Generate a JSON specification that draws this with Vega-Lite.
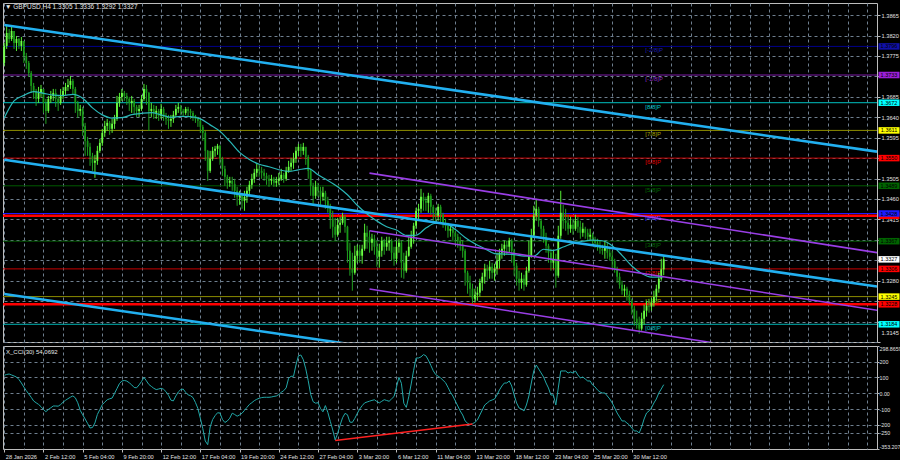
{
"$schema":"https://vega.github.io/schema/vega-lite/v6.json",
"background":"#000000",
"padding":{"left":1,"top":2,"right":0,"bottom":0},
"spacing":2,
"config":{
 "font":"Liberation Sans",
 "view":{"stroke":"#bdbdbd","strokeWidth":1},
 "axis":{"labelFont":"Liberation Sans","labelFontSize":5.7,"labelColor":"#e0e0e0","tickColor":"#bdbdbd","tickSize":3,"domain":false,"gridColor":"#6f7f8f","gridDash":[3,3],"gridWidth":1,"labelOverlap":false,"labelPadding":1}
},
"datasets":{
"bars":[
{"i":0,"o":1.37596,"h":1.38036,"l":1.3753,"c":1.3797,"v":113.4},
{"i":1,"o":1.3797,"h":1.3841,"l":1.37904,"c":1.38256,"v":118.5},
{"i":2,"o":1.38256,"h":1.38344,"l":1.38036,"c":1.38124,"v":121.7},
{"i":3,"o":1.38124,"h":1.38388,"l":1.3808,"c":1.383,"v":115.3},
{"i":4,"o":1.383,"h":1.383,"l":1.37904,"c":1.38036,"v":109},
{"i":5,"o":1.38036,"h":1.3819,"l":1.3786,"c":1.38124,"v":102.7},
{"i":6,"o":1.38124,"h":1.38146,"l":1.37904,"c":1.3797,"v":86.9},
{"i":7,"o":1.3797,"h":1.38168,"l":1.3786,"c":1.3808,"v":64.7},
{"i":8,"o":1.3808,"h":1.3808,"l":1.37596,"c":1.3775,"v":39.4},
{"i":9,"o":1.3775,"h":1.37816,"l":1.37464,"c":1.37596,"v":16},
{"i":10,"o":1.37596,"h":1.3764,"l":1.37288,"c":1.37376,"v":-4.9},
{"i":11,"o":1.37376,"h":1.3742,"l":1.36936,"c":1.3709,"v":-25.8},
{"i":12,"o":1.3709,"h":1.37156,"l":1.36804,"c":1.3698,"v":-49.2},
{"i":13,"o":1.3698,"h":1.37024,"l":1.3665,"c":1.36804,"v":-60.6},
{"i":14,"o":1.36804,"h":1.37068,"l":1.36716,"c":1.36936,"v":-70.8},
{"i":15,"o":1.36936,"h":1.37112,"l":1.36848,"c":1.37024,"v":-85.3},
{"i":16,"o":1.37024,"h":1.37024,"l":1.36496,"c":1.36716,"v":-103},
{"i":17,"o":1.36716,"h":1.36804,"l":1.36254,"c":1.3654,"v":-117},
{"i":18,"o":1.3654,"h":1.3687,"l":1.36496,"c":1.36804,"v":-103},
{"i":19,"o":1.36804,"h":1.3698,"l":1.36716,"c":1.3687,"v":-92.3},
{"i":20,"o":1.3687,"h":1.37024,"l":1.3676,"c":1.36936,"v":-80.9},
{"i":21,"o":1.36936,"h":1.37024,"l":1.36628,"c":1.36804,"v":-80.9},
{"i":22,"o":1.36804,"h":1.3687,"l":1.3654,"c":1.36716,"v":-82.2},
{"i":23,"o":1.36716,"h":1.37024,"l":1.36672,"c":1.36892,"v":-72},
{"i":24,"o":1.36892,"h":1.37068,"l":1.36804,"c":1.3698,"v":-56.8},
{"i":25,"o":1.3698,"h":1.37156,"l":1.36892,"c":1.37068,"v":-44.8},
{"i":26,"o":1.37068,"h":1.37244,"l":1.3698,"c":1.37112,"v":-34.7},
{"i":27,"o":1.37112,"h":1.3731,"l":1.37024,"c":1.372,"v":-25.2},
{"i":28,"o":1.372,"h":1.37244,"l":1.36892,"c":1.37024,"v":-17},
{"i":29,"o":1.37024,"h":1.37068,"l":1.36496,"c":1.36716,"v":-29},
{"i":30,"o":1.36716,"h":1.3676,"l":1.36386,"c":1.3654,"v":-60.6},
{"i":31,"o":1.3654,"h":1.36672,"l":1.3643,"c":1.36584,"v":-108.1},
{"i":32,"o":1.36584,"h":1.36628,"l":1.3599,"c":1.3621,"v":-136.6},
{"i":33,"o":1.3621,"h":1.36276,"l":1.3555,"c":1.3588,"v":-163.2},
{"i":34,"o":1.3588,"h":1.35968,"l":1.3555,"c":1.35748,"v":-191},
{"i":35,"o":1.35748,"h":1.35836,"l":1.3533,"c":1.3555,"v":-220.2},
{"i":36,"o":1.3555,"h":1.35616,"l":1.3522,"c":1.35396,"v":-217},
{"i":37,"o":1.35396,"h":1.35572,"l":1.35066,"c":1.3544,"v":-188.5},
{"i":38,"o":1.3544,"h":1.3577,"l":1.35352,"c":1.3566,"v":-134.7},
{"i":39,"o":1.3566,"h":1.35924,"l":1.35616,"c":1.35836,"v":-103.7},
{"i":40,"o":1.35836,"h":1.36144,"l":1.3577,"c":1.36056,"v":-72.7},
{"i":41,"o":1.36056,"h":1.3632,"l":1.35968,"c":1.3621,"v":-56.8},
{"i":42,"o":1.3621,"h":1.36364,"l":1.361,"c":1.36276,"v":-41.6},
{"i":43,"o":1.36276,"h":1.3632,"l":1.36012,"c":1.36144,"v":-35.3},
{"i":44,"o":1.36144,"h":1.36364,"l":1.36056,"c":1.36254,"v":-30.9},
{"i":45,"o":1.36254,"h":1.36452,"l":1.36144,"c":1.36364,"v":-1.1},
{"i":46,"o":1.36364,"h":1.3687,"l":1.3632,"c":1.36716,"v":29.9},
{"i":47,"o":1.36716,"h":1.36936,"l":1.36628,"c":1.36848,"v":60.9},
{"i":48,"o":1.36848,"h":1.37024,"l":1.3676,"c":1.36936,"v":77.4},
{"i":49,"o":1.36936,"h":1.3698,"l":1.3676,"c":1.3687,"v":80.5},
{"i":50,"o":1.3687,"h":1.36936,"l":1.36672,"c":1.36804,"v":76.7},
{"i":51,"o":1.36804,"h":1.36848,"l":1.3654,"c":1.36716,"v":66},
{"i":52,"o":1.36716,"h":1.3687,"l":1.36496,"c":1.3676,"v":52.7},
{"i":53,"o":1.3676,"h":1.36804,"l":1.36474,"c":1.36628,"v":36.2},
{"i":54,"o":1.36628,"h":1.36672,"l":1.36408,"c":1.3654,"v":34.3},
{"i":55,"o":1.3654,"h":1.36672,"l":1.36408,"c":1.36584,"v":52.7},
{"i":56,"o":1.36584,"h":1.36892,"l":1.3654,"c":1.36804,"v":74.2},
{"i":57,"o":1.36804,"h":1.37134,"l":1.3676,"c":1.37024,"v":100.1},
{"i":58,"o":1.37024,"h":1.37112,"l":1.36672,"c":1.36936,"v":78},
{"i":59,"o":1.36936,"h":1.36958,"l":1.361,"c":1.3654,"v":55.2},
{"i":60,"o":1.3654,"h":1.36716,"l":1.36408,"c":1.36584,"v":43.2},
{"i":61,"o":1.36584,"h":1.36672,"l":1.36364,"c":1.36496,"v":31.2},
{"i":62,"o":1.36496,"h":1.3665,"l":1.36364,"c":1.3654,"v":22.9},
{"i":63,"o":1.3654,"h":1.36584,"l":1.3632,"c":1.3643,"v":26.7},
{"i":64,"o":1.3643,"h":1.36694,"l":1.36364,"c":1.36584,"v":31.2},
{"i":65,"o":1.36584,"h":1.36628,"l":1.3632,"c":1.36408,"v":24.8},
{"i":66,"o":1.36408,"h":1.36496,"l":1.36232,"c":1.36364,"v":9.6},
{"i":67,"o":1.36364,"h":1.36452,"l":1.36144,"c":1.3632,"v":-13.2},
{"i":68,"o":1.3632,"h":1.36452,"l":1.36188,"c":1.36364,"v":-44.2},
{"i":69,"o":1.36364,"h":1.3654,"l":1.36276,"c":1.36452,"v":-48.6},
{"i":70,"o":1.36452,"h":1.36672,"l":1.36408,"c":1.36584,"v":-17.6},
{"i":71,"o":1.36584,"h":1.36716,"l":1.36496,"c":1.36628,"v":7.7},
{"i":72,"o":1.36628,"h":1.36672,"l":1.36452,"c":1.3654,"v":22.9},
{"i":73,"o":1.3654,"h":1.36584,"l":1.36408,"c":1.36496,"v":26.1},
{"i":74,"o":1.36496,"h":1.36628,"l":1.36452,"c":1.36584,"v":5.2},
{"i":75,"o":1.36584,"h":1.36628,"l":1.36408,"c":1.3654,"v":-10.6},
{"i":76,"o":1.3654,"h":1.36584,"l":1.36364,"c":1.36496,"v":-15.7},
{"i":77,"o":1.36496,"h":1.3654,"l":1.3632,"c":1.3643,"v":-27.7},
{"i":78,"o":1.3643,"h":1.36452,"l":1.36276,"c":1.36364,"v":-58.7},
{"i":79,"o":1.36364,"h":1.36408,"l":1.36188,"c":1.3632,"v":-96.7},
{"i":80,"o":1.3632,"h":1.36364,"l":1.36056,"c":1.36188,"v":-158.7},
{"i":81,"o":1.36188,"h":1.36232,"l":1.3588,"c":1.36056,"v":-223.9},
{"i":82,"o":1.36056,"h":1.361,"l":1.3544,"c":1.3566,"v":-302.4},
{"i":83,"o":1.3566,"h":1.3568,"l":1.35,"c":1.3522,"v":-325.9},
{"i":84,"o":1.3522,"h":1.3566,"l":1.35176,"c":1.35484,"v":-213.8},
{"i":85,"o":1.35484,"h":1.35748,"l":1.3544,"c":1.3566,"v":-167},
{"i":86,"o":1.3566,"h":1.3577,"l":1.35528,"c":1.35704,"v":-142.3},
{"i":87,"o":1.35704,"h":1.35814,"l":1.35572,"c":1.3577,"v":-123.9},
{"i":88,"o":1.3577,"h":1.35792,"l":1.35352,"c":1.35484,"v":-125.2},
{"i":89,"o":1.35484,"h":1.35528,"l":1.3511,"c":1.35264,"v":-165.7},
{"i":90,"o":1.35264,"h":1.3533,"l":1.3489,"c":1.35088,"v":-185.3},
{"i":91,"o":1.35088,"h":1.35132,"l":1.34824,"c":1.34956,"v":-175.8},
{"i":92,"o":1.34956,"h":1.35088,"l":1.34868,"c":1.35,"v":-158.1},
{"i":93,"o":1.35,"h":1.35088,"l":1.3478,"c":1.34934,"v":-126.5},
{"i":94,"o":1.34934,"h":1.35044,"l":1.34626,"c":1.3478,"v":-134.7},
{"i":95,"o":1.3478,"h":1.34868,"l":1.3445,"c":1.34648,"v":-145.5},
{"i":96,"o":1.34648,"h":1.3478,"l":1.34472,"c":1.34692,"v":-137.2},
{"i":97,"o":1.34692,"h":1.34736,"l":1.34384,"c":1.3456,"v":-126.5},
{"i":98,"o":1.3456,"h":1.3478,"l":1.3434,"c":1.34648,"v":-108.7},
{"i":99,"o":1.34648,"h":1.34868,"l":1.34516,"c":1.3478,"v":-89.8},
{"i":100,"o":1.3478,"h":1.35,"l":1.34692,"c":1.34912,"v":-71.4},
{"i":101,"o":1.34912,"h":1.35154,"l":1.34824,"c":1.35044,"v":-60},
{"i":102,"o":1.35044,"h":1.35264,"l":1.34956,"c":1.35176,"v":-47.3},
{"i":103,"o":1.35176,"h":1.35374,"l":1.35088,"c":1.35264,"v":-38.5},
{"i":104,"o":1.35264,"h":1.35352,"l":1.35088,"c":1.3522,"v":-32.1},
{"i":105,"o":1.3522,"h":1.35308,"l":1.35044,"c":1.35176,"v":-27.7},
{"i":106,"o":1.35176,"h":1.35264,"l":1.35,"c":1.3511,"v":-25.8},
{"i":107,"o":1.3511,"h":1.35176,"l":1.34912,"c":1.35044,"v":-25.8},
{"i":108,"o":1.35044,"h":1.35132,"l":1.34868,"c":1.35,"v":-25.8},
{"i":109,"o":1.35,"h":1.35132,"l":1.34912,"c":1.35044,"v":-23.9},
{"i":110,"o":1.35044,"h":1.35088,"l":1.34868,"c":1.34956,"v":-20.1},
{"i":111,"o":1.34956,"h":1.35088,"l":1.34868,"c":1.35,"v":-17.6},
{"i":112,"o":1.35,"h":1.35176,"l":1.34912,"c":1.35044,"v":-8.1},
{"i":113,"o":1.35044,"h":1.35264,"l":1.35,"c":1.35132,"v":5.8},
{"i":114,"o":1.35132,"h":1.35176,"l":1.34956,"c":1.35044,"v":16},
{"i":115,"o":1.35044,"h":1.35308,"l":1.35,"c":1.3522,"v":33.7},
{"i":116,"o":1.3522,"h":1.3544,"l":1.35176,"c":1.35308,"v":94.5},
{"i":117,"o":1.35308,"h":1.35506,"l":1.3522,"c":1.35396,"v":107.1},
{"i":118,"o":1.35396,"h":1.35616,"l":1.35264,"c":1.35484,"v":107.1},
{"i":119,"o":1.35484,"h":1.35748,"l":1.35396,"c":1.3566,"v":178.6},
{"i":120,"o":1.3566,"h":1.35814,"l":1.3555,"c":1.35748,"v":236.9},
{"i":121,"o":1.35748,"h":1.35814,"l":1.35528,"c":1.3566,"v":241.9},
{"i":122,"o":1.3566,"h":1.35836,"l":1.35572,"c":1.35748,"v":212.2},
{"i":123,"o":1.35748,"h":1.35748,"l":1.35352,"c":1.35528,"v":154},
{"i":124,"o":1.35528,"h":1.35572,"l":1.35044,"c":1.3522,"v":79.3},
{"i":125,"o":1.3522,"h":1.35264,"l":1.3467,"c":1.3489,"v":-7.5},
{"i":126,"o":1.3489,"h":1.34956,"l":1.34494,"c":1.3467,"v":-53.7},
{"i":127,"o":1.3467,"h":1.35,"l":1.34604,"c":1.34868,"v":-63.2},
{"i":128,"o":1.34868,"h":1.34956,"l":1.34648,"c":1.3478,"v":-60},
{"i":129,"o":1.3478,"h":1.34868,"l":1.34472,"c":1.34648,"v":-96.7},
{"i":130,"o":1.34648,"h":1.34868,"l":1.3456,"c":1.34736,"v":-117.6},
{"i":131,"o":1.34736,"h":1.3478,"l":1.34384,"c":1.3456,"v":-78.4},
{"i":132,"o":1.3456,"h":1.34648,"l":1.34296,"c":1.3445,"v":-121.4},
{"i":133,"o":1.3445,"h":1.34494,"l":1.33944,"c":1.34164,"v":-178.4},
{"i":134,"o":1.34164,"h":1.3434,"l":1.33746,"c":1.33988,"v":-232.8},
{"i":135,"o":1.33988,"h":1.34186,"l":1.3368,"c":1.33812,"v":-296},
{"i":136,"o":1.33812,"h":1.34186,"l":1.33768,"c":1.34032,"v":-253.7},
{"i":137,"o":1.34032,"h":1.34208,"l":1.33856,"c":1.34076,"v":-201.8},
{"i":138,"o":1.34076,"h":1.34296,"l":1.34032,"c":1.34208,"v":-155.6},
{"i":139,"o":1.34208,"h":1.34252,"l":1.33856,"c":1.33988,"v":-127.7},
{"i":140,"o":1.33988,"h":1.3401,"l":1.33196,"c":1.3346,"v":-136},
{"i":141,"o":1.3346,"h":1.33636,"l":1.3291,"c":1.33064,"v":-182.8},
{"i":142,"o":1.33064,"h":1.33416,"l":1.3258,"c":1.32976,"v":-184.7},
{"i":143,"o":1.32976,"h":1.3357,"l":1.32932,"c":1.3335,"v":-159.4},
{"i":144,"o":1.3335,"h":1.33592,"l":1.33196,"c":1.3346,"v":-128.4},
{"i":145,"o":1.3346,"h":1.33592,"l":1.33196,"c":1.3335,"v":-99.9},
{"i":146,"o":1.3335,"h":1.33592,"l":1.33174,"c":1.33504,"v":-79},
{"i":147,"o":1.33504,"h":1.34054,"l":1.3346,"c":1.33856,"v":-61.3},
{"i":148,"o":1.33856,"h":1.3401,"l":1.33504,"c":1.33768,"v":-55.6},
{"i":149,"o":1.33768,"h":1.339,"l":1.33416,"c":1.33636,"v":-50.5},
{"i":150,"o":1.33636,"h":1.33834,"l":1.3346,"c":1.33724,"v":-45.4},
{"i":151,"o":1.33724,"h":1.33812,"l":1.33372,"c":1.33548,"v":-41.6},
{"i":152,"o":1.33548,"h":1.3368,"l":1.33108,"c":1.33328,"v":-52.4},
{"i":153,"o":1.33328,"h":1.33614,"l":1.33086,"c":1.3346,"v":-61.3},
{"i":154,"o":1.3346,"h":1.33768,"l":1.33328,"c":1.3368,"v":-51.1},
{"i":155,"o":1.3368,"h":1.33724,"l":1.33372,"c":1.33548,"v":-41},
{"i":156,"o":1.33548,"h":1.33768,"l":1.3346,"c":1.33636,"v":-46.1},
{"i":157,"o":1.33636,"h":1.33768,"l":1.3346,"c":1.3368,"v":-51.1},
{"i":158,"o":1.3368,"h":1.33724,"l":1.3324,"c":1.33416,"v":-35.9},
{"i":159,"o":1.33416,"h":1.33548,"l":1.3313,"c":1.33284,"v":-20.8},
{"i":160,"o":1.33284,"h":1.3368,"l":1.33196,"c":1.33548,"v":38.7},
{"i":161,"o":1.33548,"h":1.33724,"l":1.33416,"c":1.33636,"v":100.8},
{"i":162,"o":1.33636,"h":1.3368,"l":1.32866,"c":1.33196,"v":62.8},
{"i":163,"o":1.33196,"h":1.33416,"l":1.32844,"c":1.3302,"v":-63.8},
{"i":164,"o":1.3302,"h":1.3346,"l":1.32976,"c":1.3335,"v":-89.8},
{"i":165,"o":1.3335,"h":1.33768,"l":1.33328,"c":1.33548,"v":-22.7},
{"i":166,"o":1.33548,"h":1.339,"l":1.33504,"c":1.33768,"v":58.4},
{"i":167,"o":1.33768,"h":1.34076,"l":1.33614,"c":1.3401,"v":145.7},
{"i":168,"o":1.3401,"h":1.34406,"l":1.33944,"c":1.3434,"v":222.9},
{"i":169,"o":1.3434,"h":1.34494,"l":1.3412,"c":1.34384,"v":222.9},
{"i":170,"o":1.34384,"h":1.34824,"l":1.34296,"c":1.34648,"v":229.9},
{"i":171,"o":1.34648,"h":1.34736,"l":1.3434,"c":1.3456,"v":244.5},
{"i":172,"o":1.3456,"h":1.34648,"l":1.3434,"c":1.34516,"v":236.9},
{"i":173,"o":1.34516,"h":1.34736,"l":1.34296,"c":1.3467,"v":209.7},
{"i":174,"o":1.3467,"h":1.34714,"l":1.34252,"c":1.34428,"v":176.7},
{"i":175,"o":1.34428,"h":1.34472,"l":1.3412,"c":1.34296,"v":141.9},
{"i":176,"o":1.34296,"h":1.34406,"l":1.34054,"c":1.3423,"v":117.9},
{"i":177,"o":1.3423,"h":1.34494,"l":1.3412,"c":1.34428,"v":107.7},
{"i":178,"o":1.34428,"h":1.34472,"l":1.34076,"c":1.34252,"v":97},
{"i":179,"o":1.34252,"h":1.34296,"l":1.33966,"c":1.34076,"v":81.8},
{"i":180,"o":1.34076,"h":1.34164,"l":1.339,"c":1.3401,"v":66.6},
{"i":181,"o":1.3401,"h":1.34076,"l":1.33746,"c":1.339,"v":37.5},
{"i":182,"o":1.339,"h":1.34032,"l":1.33768,"c":1.33944,"v":6.5},
{"i":183,"o":1.33944,"h":1.33988,"l":1.3368,"c":1.33856,"v":-17.6},
{"i":184,"o":1.33856,"h":1.339,"l":1.33614,"c":1.33768,"v":-49.2},
{"i":185,"o":1.33768,"h":1.33834,"l":1.33526,"c":1.3368,"v":-80.9},
{"i":186,"o":1.3368,"h":1.33768,"l":1.3346,"c":1.33592,"v":-112.5},
{"i":187,"o":1.33592,"h":1.3368,"l":1.33306,"c":1.3346,"v":-137.9},
{"i":188,"o":1.3346,"h":1.33504,"l":1.3269,"c":1.32976,"v":-175.8},
{"i":189,"o":1.32976,"h":1.3302,"l":1.32514,"c":1.32756,"v":-190},
{"i":190,"o":1.32756,"h":1.3291,"l":1.32448,"c":1.32624,"v":-200},
{"i":191,"o":1.32624,"h":1.32734,"l":1.32294,"c":1.32404,"v":-193},
{"i":192,"o":1.32404,"h":1.32624,"l":1.32316,"c":1.32492,"v":-185},
{"i":193,"o":1.32492,"h":1.32668,"l":1.3236,"c":1.32536,"v":-170},
{"i":194,"o":1.32536,"h":1.32844,"l":1.32448,"c":1.32756,"v":-137.9},
{"i":195,"o":1.32756,"h":1.32976,"l":1.3258,"c":1.32888,"v":-106.2},
{"i":196,"o":1.32888,"h":1.33174,"l":1.32734,"c":1.33064,"v":-74.6},
{"i":197,"o":1.33064,"h":1.33152,"l":1.328,"c":1.3302,"v":-61.9},
{"i":198,"o":1.3302,"h":1.3324,"l":1.32844,"c":1.33108,"v":-49.2},
{"i":199,"o":1.33108,"h":1.33196,"l":1.32844,"c":1.32976,"v":-42.9},
{"i":200,"o":1.32976,"h":1.33174,"l":1.328,"c":1.33064,"v":-36.6},
{"i":201,"o":1.33064,"h":1.33416,"l":1.32932,"c":1.3324,"v":-11.3},
{"i":202,"o":1.3324,"h":1.33504,"l":1.33064,"c":1.33416,"v":20.4},
{"i":203,"o":1.33416,"h":1.33614,"l":1.33284,"c":1.33504,"v":45.7},
{"i":204,"o":1.33504,"h":1.3368,"l":1.3335,"c":1.33592,"v":64.7},
{"i":205,"o":1.33592,"h":1.3368,"l":1.33372,"c":1.33548,"v":64.7},
{"i":206,"o":1.33548,"h":1.33746,"l":1.33416,"c":1.3368,"v":77.4},
{"i":207,"o":1.3368,"h":1.33724,"l":1.33196,"c":1.3346,"v":45.7},
{"i":208,"o":1.3346,"h":1.33504,"l":1.3291,"c":1.3313,"v":-11.3},
{"i":209,"o":1.3313,"h":1.33196,"l":1.3269,"c":1.32844,"v":-61.9},
{"i":210,"o":1.32844,"h":1.3302,"l":1.3258,"c":1.32756,"v":-93.6},
{"i":211,"o":1.32756,"h":1.32976,"l":1.32624,"c":1.32844,"v":-99.9},
{"i":212,"o":1.32844,"h":1.32932,"l":1.3258,"c":1.32712,"v":-112.5},
{"i":213,"o":1.32712,"h":1.33108,"l":1.32668,"c":1.3302,"v":-74.6},
{"i":214,"o":1.3302,"h":1.3368,"l":1.32976,"c":1.3335,"v":-17.6},
{"i":215,"o":1.3335,"h":1.33944,"l":1.33306,"c":1.3379,"v":64.7},
{"i":216,"o":1.3379,"h":1.3445,"l":1.33768,"c":1.3423,"v":140.7},
{"i":217,"o":1.3423,"h":1.34604,"l":1.3412,"c":1.34384,"v":178.6},
{"i":218,"o":1.34384,"h":1.34428,"l":1.33988,"c":1.3412,"v":153.3},
{"i":219,"o":1.3412,"h":1.34164,"l":1.33768,"c":1.33944,"v":128},
{"i":220,"o":1.33944,"h":1.3401,"l":1.33636,"c":1.33768,"v":102.7},
{"i":221,"o":1.33768,"h":1.33856,"l":1.33416,"c":1.3357,"v":64.7},
{"i":222,"o":1.3357,"h":1.33614,"l":1.33196,"c":1.33416,"v":33},
{"i":223,"o":1.33416,"h":1.33504,"l":1.3302,"c":1.33196,"v":-11.3},
{"i":224,"o":1.33196,"h":1.3346,"l":1.33064,"c":1.33284,"v":-11.3},
{"i":225,"o":1.33284,"h":1.33394,"l":1.32646,"c":1.3291,"v":-74.6},
{"i":226,"o":1.3291,"h":1.3401,"l":1.32866,"c":1.3379,"v":33},
{"i":227,"o":1.3379,"h":1.3478,"l":1.33724,"c":1.34296,"v":140.7},
{"i":228,"o":1.34296,"h":1.34472,"l":1.33944,"c":1.3412,"v":140.7},
{"i":229,"o":1.3412,"h":1.34384,"l":1.339,"c":1.34076,"v":140.7},
{"i":230,"o":1.34076,"h":1.34252,"l":1.33812,"c":1.33944,"v":128},
{"i":231,"o":1.33944,"h":1.34208,"l":1.33856,"c":1.34032,"v":134.3},
{"i":232,"o":1.34032,"h":1.34164,"l":1.33812,"c":1.33944,"v":128},
{"i":233,"o":1.33944,"h":1.34252,"l":1.339,"c":1.3412,"v":140.7},
{"i":234,"o":1.3412,"h":1.34208,"l":1.33856,"c":1.33988,"v":115.3},
{"i":235,"o":1.33988,"h":1.3412,"l":1.33724,"c":1.33856,"v":96.3},
{"i":236,"o":1.33856,"h":1.34076,"l":1.33768,"c":1.33944,"v":102.7},
{"i":237,"o":1.33944,"h":1.33988,"l":1.33724,"c":1.33856,"v":90},
{"i":238,"o":1.33856,"h":1.33944,"l":1.3368,"c":1.33768,"v":77.4},
{"i":239,"o":1.33768,"h":1.33944,"l":1.3368,"c":1.33812,"v":77.4},
{"i":240,"o":1.33812,"h":1.33856,"l":1.33592,"c":1.3368,"v":52},
{"i":241,"o":1.3368,"h":1.33768,"l":1.33526,"c":1.33636,"v":39.4},
{"i":242,"o":1.33636,"h":1.33724,"l":1.3346,"c":1.33548,"v":20.4},
{"i":243,"o":1.33548,"h":1.3368,"l":1.33394,"c":1.33504,"v":7.7},
{"i":244,"o":1.33504,"h":1.33592,"l":1.33372,"c":1.3346,"v":1.4},
{"i":245,"o":1.3346,"h":1.3368,"l":1.33284,"c":1.33548,"v":1.4},
{"i":246,"o":1.33548,"h":1.33636,"l":1.33284,"c":1.33416,"v":-17.6},
{"i":247,"o":1.33416,"h":1.33548,"l":1.3324,"c":1.33328,"v":-36.6},
{"i":248,"o":1.33328,"h":1.3346,"l":1.33086,"c":1.3324,"v":-61.9},
{"i":249,"o":1.3324,"h":1.33284,"l":1.32976,"c":1.33064,"v":-93.6},
{"i":250,"o":1.33064,"h":1.33108,"l":1.32756,"c":1.32888,"v":-125.2},
{"i":251,"o":1.32888,"h":1.32976,"l":1.32624,"c":1.32712,"v":-150.5},
{"i":252,"o":1.32712,"h":1.328,"l":1.32492,"c":1.3258,"v":-175.8},
{"i":253,"o":1.3258,"h":1.32712,"l":1.32448,"c":1.32624,"v":-175.8},
{"i":254,"o":1.32624,"h":1.32668,"l":1.3236,"c":1.32492,"v":-188.5},
{"i":255,"o":1.32492,"h":1.3258,"l":1.32272,"c":1.3236,"v":-201.2},
{"i":256,"o":1.3236,"h":1.32404,"l":1.32052,"c":1.32184,"v":-220.2},
{"i":257,"o":1.32184,"h":1.3225,"l":1.3181,"c":1.31964,"v":-239.1},
{"i":258,"o":1.31964,"h":1.3214,"l":1.31744,"c":1.31876,"v":-239.1},
{"i":259,"o":1.31876,"h":1.32008,"l":1.31634,"c":1.31744,"v":-251.8},
{"i":260,"o":1.31744,"h":1.32096,"l":1.317,"c":1.31964,"v":-213.8},
{"i":261,"o":1.31964,"h":1.32272,"l":1.31832,"c":1.3214,"v":-163.2},
{"i":262,"o":1.3214,"h":1.3236,"l":1.32008,"c":1.3225,"v":-125.2},
{"i":263,"o":1.3225,"h":1.32404,"l":1.32096,"c":1.32228,"v":-112.5},
{"i":264,"o":1.32228,"h":1.32426,"l":1.3214,"c":1.32316,"v":-93.6},
{"i":265,"o":1.32316,"h":1.3258,"l":1.32228,"c":1.32448,"v":-61.9},
{"i":266,"o":1.32448,"h":1.32712,"l":1.3236,"c":1.32624,"v":-36.6},
{"i":267,"o":1.32624,"h":1.32976,"l":1.32536,"c":1.32844,"v":1.4},
{"i":268,"o":1.32844,"h":1.33284,"l":1.328,"c":1.3305,"v":26.7},
{"i":269,"o":1.3305,"h":1.3336,"l":1.3292,"c":1.3327,"v":54.0692}
],
"ma":[
{"i":0,"m":1.36386},{"i":4,"m":1.3676},{"i":8,"m":1.36881},{"i":12,"m":1.36962},{"i":16,"m":1.36927},{"i":20,"m":1.36888},{"i":24,"m":1.36879},{"i":28,"m":1.36903},{"i":32,"m":1.36819},{"i":36,"m":1.36606},{"i":40,"m":1.36452},{"i":44,"m":1.36382},{"i":48,"m":1.3639},{"i":52,"m":1.36456},{"i":56,"m":1.36485},{"i":60,"m":1.36503},{"i":64,"m":1.36452},{"i":68,"m":1.36399},{"i":72,"m":1.36417},{"i":76,"m":1.36412},{"i":80,"m":1.36364},{"i":84,"m":1.36232},{"i":88,"m":1.36089},{"i":92,"m":1.35869},{"i":96,"m":1.35627},{"i":100,"m":1.35471},{"i":104,"m":1.35365},{"i":108,"m":1.3531},{"i":112,"m":1.35244},{"i":116,"m":1.35207},{"i":120,"m":1.35242},{"i":124,"m":1.35275},{"i":128,"m":1.35132},{"i":132,"m":1.35009},{"i":136,"m":1.34868},{"i":140,"m":1.34692},{"i":144,"m":1.34461},{"i":148,"m":1.34267},{"i":152,"m":1.34113},{"i":156,"m":1.33988},{"i":160,"m":1.33915},{"i":164,"m":1.33797},{"i":168,"m":1.33801},{"i":172,"m":1.33959},{"i":176,"m":1.34065},{"i":180,"m":1.34058},{"i":184,"m":1.33926},{"i":188,"m":1.33753},{"i":192,"m":1.33614},{"i":196,"m":1.33506},{"i":200,"m":1.33398},{"i":204,"m":1.33387},{"i":208,"m":1.33374},{"i":212,"m":1.33343},{"i":216,"m":1.33339},{"i":220,"m":1.33493},{"i":224,"m":1.33467},{"i":228,"m":1.33541},{"i":232,"m":1.33623},{"i":236,"m":1.33669},{"i":240,"m":1.33695},{"i":244,"m":1.3368},{"i":248,"m":1.3357},{"i":252,"m":1.33359},{"i":256,"m":1.33123},{"i":260,"m":1.32958},{"i":264,"m":1.32879},{"i":268,"m":1.32884},{"i":269,"m":1.32888}
],
"ch":[
{"g":"b","s":"b1","i":0,"p":1.38432},{"g":"b","s":"b1","i":356,"p":1.35642},
{"g":"b","s":"b2","i":0,"p":1.35462},{"g":"b","s":"b2","i":356,"p":1.32672},
{"g":"b","s":"b3","i":0,"p":1.32507},{"g":"b","s":"b3","i":356,"p":1.29718},
{"g":"p","s":"p1","i":149,"p":1.35169},{"g":"p","s":"p1","i":356,"p":1.33418},
{"g":"p","s":"p2","i":149,"p":1.339},{"g":"p","s":"p2","i":356,"p":1.32149},
{"g":"p","s":"p3","i":149,"p":1.32617},{"g":"p","s":"p3","i":356,"p":1.30866}
],
"lv":[
{"p":1.3796,"m":"[-2/8]P"},{"p":1.3733,"m":"[-1/8]P"},{"p":1.3672,"m":"[8/8]P"},{"p":1.3611,"m":"[7/8]P"},{"p":1.355,"m":"[6/8]P"},{"p":1.3489,"m":"[5/8]P"},{"p":1.3428,"m":"[4/8]P"},{"p":1.3367,"m":"[3/8]P"},{"p":1.3306,"m":"[2/8]P"},{"p":1.3245,"m":"[1/8]P"},{"p":1.3184,"m":"[0/8]P"}
],
"rl":[{"p":1.3423},{"p":1.3228}],
"bx":[
{"p":1.3796,"k":"navy"},{"p":1.3733,"k":"purple"},{"p":1.3672,"k":"cyan"},{"p":1.3611,"k":"yellow"},{"p":1.355,"k":"red"},{"p":1.3489,"k":"green"},{"p":1.3423,"k":"redlow"},{"p":1.3428,"k":"blue"},{"p":1.3367,"k":"green"},{"p":1.3327,"k":"white"},{"p":1.3306,"k":"red"},{"p":1.3245,"k":"yellow"},{"p":1.3228,"k":"red"},{"p":1.3184,"k":"cyan"}
],
"div":[{"i":135,"v":-300},{"i":191,"v":-195}]
},
"vconcat":[
{
 "width":874,"height":339,
 "title":{"text":"▼ GBPUSD,H4  1.3305 1.3336 1.3292 1.3327","anchor":"start","frame":"group","offset":-7,"dx":2,"fontSize":6.5,"font":"Liberation Sans, DejaVu Sans","fontWeight":"normal","color":"#e6e6e6"},
 "resolve":{"scale":{"color":"independent"}},
 "layer":[
  {"data":{"name":"lv"},"mark":{"type":"rule","strokeWidth":1},
   "encoding":{
    "x":{"datum":-0.5,"type":"quantitative","title":null,"scale":{"domain":[-0.5,356],"nice":false,"zero":false},"axis":{"values":[0,8,16,24,32,40,48,56,64,72,80,88,96,104,112,120,128,136,144,152,160,168,176,184,192,200,208,216,224,232,240,248,256,264,272,280,288,296,304,312,320,328,336,344,352],"tickCount":500,"grid":true,"labels":false,"ticks":false,"domain":false}},
    "x2":{"datum":356},
    "y":{"field":"p","type":"quantitative","title":null,"scale":{"domain":[1.3145,1.38916],"nice":false,"zero":false},"axis":{"orient":"right","values":[1.3145,1.319,1.3235,1.328,1.3325,1.337,1.3415,1.346,1.3505,1.355,1.3595,1.364,1.3685,1.373,1.3775,1.382,1.3865],"tickCount":500,"labelOverlap":false,"grid":true,"labelExpr":"indexof([1.319,1.3235,1.3325,1.337,1.355,1.373], datum.value) >= 0 ? '' : format(datum.value, '.4f')","labelOffset":{"condition":{"test":"datum.value < 1.315","value":-10},"value":0}}},
    "color":{"field":"m","type":"nominal","legend":null,"scale":{"domain":["[-2/8]P","[-1/8]P","[8/8]P","[7/8]P","[6/8]P","[5/8]P","[4/8]P","[3/8]P","[2/8]P","[1/8]P","[0/8]P"],"range":["#00008b","#7d1aa8","#00c0c0","#8c8c00","#c80000","#005a00","#1a1aff","#005a00","#c80000","#8c8c00","#00b4b4"]}}
   }},
  {"data":{"name":"rl"},"mark":{"type":"rule","strokeWidth":2.5,"color":"#ff0000"},
   "encoding":{"y":{"field":"p","type":"quantitative","title":null,"scale":{"domain":[1.3145,1.38916],"nice":false,"zero":false}}}},
  {"data":{"name":"lv"},"mark":{"type":"text","align":"left","baseline":"top","dy":1,"fontSize":6,"font":"Liberation Sans"},
   "encoding":{
    "x":{"datum":261.5,"type":"quantitative"},
    "y":{"field":"p","type":"quantitative","title":null,"scale":{"domain":[1.3145,1.38916],"nice":false,"zero":false}},
    "text":{"field":"m"},
    "color":{"field":"m","type":"nominal","legend":null,"scale":{"domain":["[-2/8]P","[-1/8]P","[8/8]P","[7/8]P","[6/8]P","[5/8]P","[4/8]P","[3/8]P","[2/8]P","[1/8]P","[0/8]P"],"range":["#1c1cb0","#8c2cc0","#00c8c8","#a0a000","#e00000","#006a00","#3030ff","#006a00","#e00000","#a0a000","#00c0c0"]}}
   }},
  {"data":{"name":"bars"},"mark":{"type":"rule","strokeWidth":1},
   "encoding":{
    "x":{"field":"i","type":"quantitative","title":null,"scale":{"domain":[-0.5,356],"nice":false,"zero":false}},
    "y":{"field":"l","type":"quantitative","title":null,"scale":{"domain":[1.3145,1.38916],"nice":false,"zero":false}},
    "y2":{"field":"h"},
    "color":{"condition":{"test":"datum.c >= datum.o","value":"#55f035"},"value":"#22a022"}
   }},
  {"data":{"name":"bars"},"mark":{"type":"rule","strokeWidth":1.8},
   "encoding":{
    "x":{"field":"i","type":"quantitative","title":null,"scale":{"domain":[-0.5,356],"nice":false,"zero":false}},
    "y":{"field":"o","type":"quantitative","title":null,"scale":{"domain":[1.3145,1.38916],"nice":false,"zero":false}},
    "y2":{"field":"c"},
    "color":{"condition":{"test":"datum.c >= datum.o","value":"#6dff45"},"value":"#189818"}
   }},
  {"data":{"name":"ma"},"mark":{"type":"line","color":"#2ab8b8","strokeWidth":1.2,"interpolate":"monotone"},
   "encoding":{
    "x":{"field":"i","type":"quantitative","title":null,"scale":{"domain":[-0.5,356],"nice":false,"zero":false}},
    "y":{"field":"m","type":"quantitative","title":null,"scale":{"domain":[1.3145,1.38916],"nice":false,"zero":false}}
   }},
  {"data":{"name":"ch"},"transform":[{"filter":"datum.g == 'p'"}],"mark":{"type":"line","color":"#9a3ee6","strokeWidth":1.6,"clip":true},
   "encoding":{
    "x":{"field":"i","type":"quantitative","title":null,"scale":{"domain":[-0.5,356],"nice":false,"zero":false}},
    "y":{"field":"p","type":"quantitative","title":null,"scale":{"domain":[1.3145,1.38916],"nice":false,"zero":false}},
    "detail":{"field":"s"}
   }},
  {"data":{"name":"ch"},"transform":[{"filter":"datum.g == 'b'"}],"mark":{"type":"line","color":"#22b0f0","strokeWidth":2.6,"clip":true},
   "encoding":{
    "x":{"field":"i","type":"quantitative","title":null,"scale":{"domain":[-0.5,356],"nice":false,"zero":false}},
    "y":{"field":"p","type":"quantitative","title":null,"scale":{"domain":[1.3145,1.38916],"nice":false,"zero":false}},
    "detail":{"field":"s"}
   }},
  {"data":{"name":"bx"},"mark":{"type":"point","filled":true,"opacity":1,"shape":"M-1,-0.31H1V0.31H-1Z","size":441,"strokeWidth":0},
   "encoding":{
    "x":{"datum":360.9,"type":"quantitative"},
    "y":{"field":"p","type":"quantitative","title":null,"scale":{"domain":[1.3145,1.38916],"nice":false,"zero":false}},
    "color":{"field":"k","type":"nominal","legend":null,"scale":{"domain":["navy","purple","cyan","yellow","red","green","redlow","blue","white"],"range":["#1010a8","#9b1fd8","#00ffff","#ffff00","#ff0000","#006400","#ff0000","#1c1cff","#ffffff"]}}
   }},
  {"data":{"name":"bx"},"transform":[{"filter":"datum.k != 'redlow'"}],"mark":{"type":"text","align":"center","baseline":"middle","fontSize":5.5,"font":"Liberation Sans","color":"#000000"},
   "encoding":{
    "x":{"datum":360.9,"type":"quantitative"},
    "y":{"field":"p","type":"quantitative","title":null,"scale":{"domain":[1.3145,1.38916],"nice":false,"zero":false}},
    "text":{"field":"p","type":"quantitative","format":".4f"}
   }}
 ]
},
{
 "width":874,"height":103,
 "title":{"text":"X_CCI(30) 54.0692","anchor":"start","frame":"group","offset":-9,"dx":3,"fontSize":6,"font":"Liberation Sans","fontWeight":"normal","color":"#e6e6e6"},
 "layer":[
  {"data":{"name":"bars"},"mark":{"type":"line","color":"#22a8a8","strokeWidth":1},
   "encoding":{
    "x":{"field":"i","type":"quantitative","title":null,"scale":{"domain":[-0.5,356],"nice":false,"zero":false},"axis":{"values":[0,8,16,24,32,40,48,56,64,72,80,88,96,104,112,120,128,136,144,152,160,168,176,184,192,200,208,216,224,232,240,248,256,264,272,280,288,296,304,312,320,328,336,344,352],"tickCount":500,"labelOverlap":false,"grid":true,"labelFlush":false,"labelAlign":"left","labelOffset":1,"labelPadding":1,"tickOpacity":{"condition":{"test":"datum.value % 16 === 0 && datum.value <= 256","value":1},"value":0},"labelExpr":"['28 Jan 2026','2 Feb 12:00','5 Feb 04:00','9 Feb 20:00','12 Feb 12:00','17 Feb 04:00','19 Feb 20:00','24 Feb 12:00','27 Feb 04:00','3 Mar 20:00','6 Mar 12:00','11 Mar 04:00','13 Mar 20:00','18 Mar 12:00','23 Mar 04:00','25 Mar 20:00','30 Mar 12:00'][datum.value / 16] || ''"}},
    "y":{"field":"v","type":"quantitative","title":null,"scale":{"domain":[-353.207,298.8659],"nice":false,"zero":false},"axis":{"orient":"right","values":[298.8659,200,100,0,-100,-200,-250,-353.207],"tickCount":500,"labelOverlap":false,"tickSize":2,"labelPadding":0,"labelFontSize":5.3,"grid":true,"labelExpr":"datum.value == 0 ? '0.00' : toString(datum.value)","gridOpacity":{"condition":{"test":"datum.value > 290 || datum.value < -350","value":0},"value":1},"labelBaseline":{"condition":{"test":"datum.value > 290","value":"top"},"value":"middle"},"labelOffset":{"condition":{"test":"datum.value < -350","value":-3},"value":0}}}
   }},
  {"data":{"name":"div"},"mark":{"type":"line","color":"#ff2020","strokeWidth":1.5},
   "encoding":{
    "x":{"field":"i","type":"quantitative","title":null,"scale":{"domain":[-0.5,356],"nice":false,"zero":false}},
    "y":{"field":"v","type":"quantitative","title":null,"scale":{"domain":[-353.207,298.8659],"nice":false,"zero":false}}
   }}
 ]
}
]
}
